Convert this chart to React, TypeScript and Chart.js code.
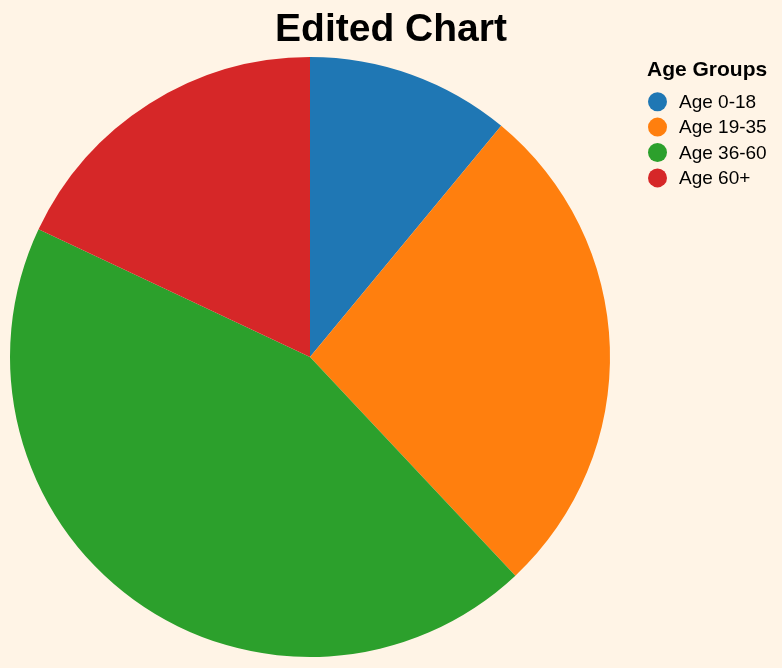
import React, { useEffect, useRef } from "react";
import { Chart, registerables } from "chart.js";

Chart.register(...registerables);

const categories = ["Age 0-18", "Age 19-35", "Age 36-60", "Age 60+"];
const values = [11, 27, 44, 18];
const colors = ["#1f77b4", "#ff7f0e", "#2ca02c", "#d62728"];
const chartTitle = "Edited Chart";
const legendTitle = "Age Groups";

const FONT = "'Liberation Sans', Arial, Helvetica, sans-serif";

const overlayPlugin = {
  id: "overlay",
  afterDraw(chart: any) {
    const ctx = chart.ctx;
    ctx.save();
    ctx.fillStyle = "#000";
    ctx.textAlign = "center";
    ctx.textBaseline = "alphabetic";
    ctx.font = `bold 39px ${FONT}`;
    ctx.fillText(chartTitle, 391, 41);

    ctx.textAlign = "left";
    ctx.font = `bold 21px ${FONT}`;
    ctx.fillText(legendTitle, 647, 76);
    ctx.font = `19px ${FONT}`;
    const labels = chart.data.labels as string[];
    labels.forEach((lab, i) => {
      const y = 101.7 + i * 25.4;
      ctx.beginPath();
      ctx.arc(657.5, y, 9.5, 0, Math.PI * 2);
      ctx.fillStyle = colors[i];
      ctx.fill();
      ctx.fillStyle = "#000";
      ctx.textBaseline = "middle";
      ctx.fillText(lab, 679, y + 1);
    });
    ctx.restore();
  },
};

export default function App() {
  const ref = useRef<HTMLCanvasElement>(null);
  useEffect(() => {
    document.body.style.margin = "0";
    const chart = new Chart(ref.current!, {
      type: "pie",
      data: {
        labels: categories,
        datasets: [
          {
            data: values,
            backgroundColor: colors,
            borderWidth: 0,
          },
        ],
      },
      options: {
        animation: false,
        responsive: false,
        layout: { padding: { left: 10, top: 57, right: 172, bottom: 11 } },
        plugins: {
          legend: { display: false },
          tooltip: { enabled: false },
          title: { display: false },
        },
      },
      plugins: [overlayPlugin],
    });
    return () => chart.destroy();
  }, []);
  return (
    <div style={{ width: 782, height: 668, background: "#fff4e6", position: "absolute", left: 0, top: 0 }}>
      <canvas ref={ref} width={782} height={668} />
    </div>
  );
}
